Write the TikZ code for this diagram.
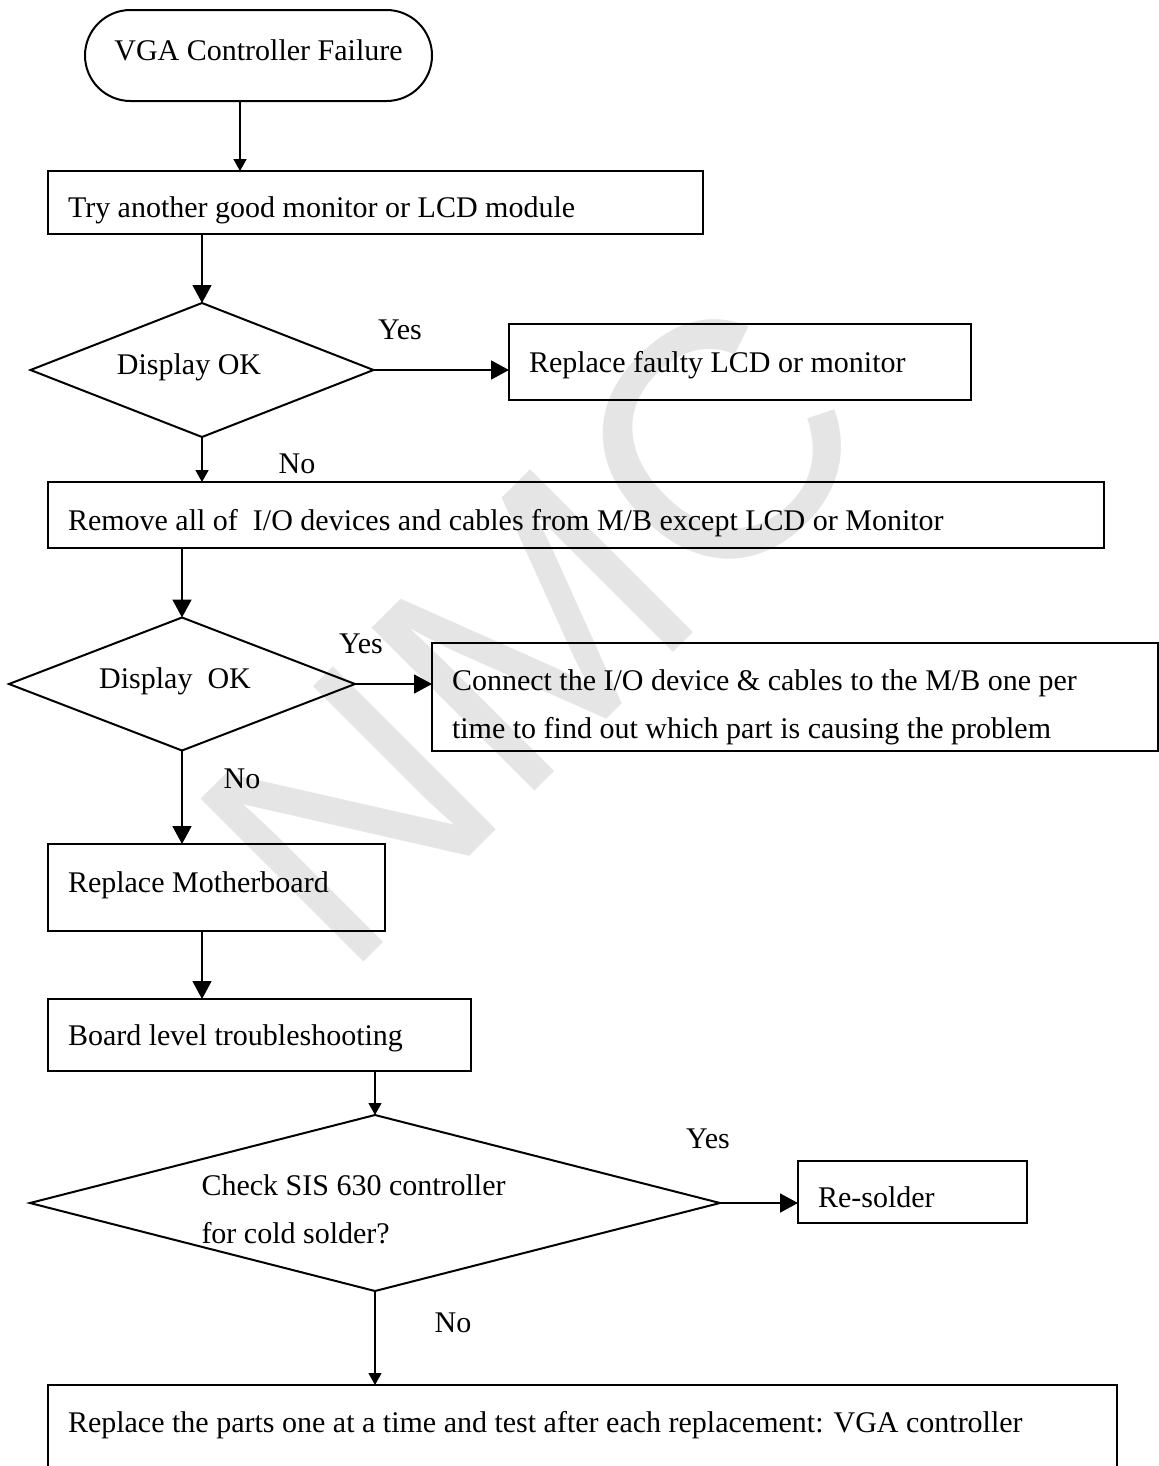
\documentclass[tikz,border=0pt]{standalone}
\usepackage{fontspec}
\setmainfont{Liberation Serif}
\newfontfamily\wmfont{Liberation Sans}
\usetikzlibrary{shapes.geometric,arrows.meta}
\definecolor{wmgray}{gray}{0.9}
\begin{document}
\begin{tikzpicture}[x=0.4pt,y=-0.4pt,
  every node/.style={font=\fontsize{12}{19.2}\selectfont},
  box/.style={draw, line width=0.8pt, rectangle, anchor=north west, inner xsep=8pt, inner ysep=0pt, outer sep=0pt},
  term/.style={draw, line width=0.8pt, rounded corners=18.2pt, anchor=north west, inner xsep=0pt, inner ysep=0pt, outer sep=0pt},
  dia/.style={draw, line width=0.8pt, diamond, inner sep=0pt, outer sep=0pt},
  lbl/.style={anchor=base, inner sep=0pt},
  big/.style={line width=0.7pt, -{Triangle[length=7.2pt,width=7.6pt]}},
  small/.style={line width=0.7pt, -{Triangle[length=4.8pt,width=5.2pt]}},
  thin/.style={line width=0.45pt, -{Triangle[length=4.8pt,width=5.2pt]}},
]
\useasboundingbox (0,0) rectangle (1159,1466);
\clip (0,0) rectangle (1159,1466);

% watermark
\node[rotate=45, text=wmgray, font=\wmfont\fontsize{134}{134}\selectfont, inner sep=0pt] (wm) at (533,630) {NMC};

% terminal
\node[term, minimum width=138.8pt, text height=20pt, text depth=16.4pt] (start) at (85,10) {VGA Controller Failure};

% boxes
\node[box, text height=18.4pt, text depth=6.8pt] (b1) at (48,171) {\makebox[246pt][l]{Try another good monitor or LCD module}};
\node[box, text height=19.2pt, text depth=11.2pt] (r1) at (509,324) {\makebox[168.8pt][l]{Replace faulty LCD or monitor}};
\node[box, text height=19.2pt, text depth=7.2pt] (b2) at (48,482) {\makebox[406.4pt][l]{Remove all of \ I/O devices and cables from M/B except LCD or Monitor}};
\node[box, text height=18.8pt, text depth=24.4pt] (r2) at (432,643) {\parbox[t]{274.4pt}{Connect the I/O device \& cables to the M/B one per\\time to find out which part is causing the problem}};
\node[box, text height=19.2pt, text depth=15.6pt] (b4) at (48,844) {\makebox[118.8pt][l]{Replace Motherboard}};
\node[box, text height=18.4pt, text depth=10.4pt] (b5) at (48,999) {\makebox[153.2pt][l]{Board level troubleshooting}};
\node[box, text height=18.4pt, text depth=6.4pt] (r3) at (798,1161) {\makebox[75.6pt][l]{Re-solder}};
\node[box, text height=18.8pt, text depth=50pt] (b7) at (48,1385) {\makebox[411.6pt][l]{Replace the parts one at a time and test after each replacement: VGA controller}};

% decisions
\node[dia, minimum width=137.2pt, minimum height=53.6pt] (d1) at (202,370) {};
\node[dia, minimum width=138.4pt, minimum height=53.2pt] (d2) at (182,684) {};
\node[dia, minimum width=276pt, minimum height=70.4pt] (d3) at (375,1203) {};
\node[lbl] (d1t) at (189,374) {Display OK};
\node[lbl] (d2t) at (175,688) {Display\ \ OK};
\node[anchor=base west, inner sep=0pt] (d3t) at (201,1195) {\parbox[t]{130pt}{Check SIS 630 controller\\for cold solder?}};

% branch labels
\node[lbl] (y1) at (400,339) {Yes};
\node[lbl] (n1) at (297,473) {No};
\node[lbl] (y2) at (361,653) {Yes};
\node[lbl] (n2) at (242,788) {No};
\node[lbl] (y3) at (708,1148) {Yes};
\node[lbl] (n3) at (453,1332) {No};

% connectors
\draw[small] ([xshift=-7.4pt]start.south) -- ([xshift=-7.4pt]start.south |- b1.north);
\draw[big] (d1.north |- b1.south) -- (d1.north);
\draw[big] (d1.east) -- (d1.east -| r1.west);
\draw[small] (d1.south) -- (d1.south |- b2.north);
\draw[big] (d2.north |- b2.south) -- (d2.north);
\draw[big] (d2.east) -- (d2.east -| r2.west);
\draw[big] (d2.south) -- (d2.south |- b4.north);
\draw[big] ([xshift=-5.8pt]b4.south) -- ([xshift=-5.8pt]b4.south |- b5.north);
\draw[thin] (d3.north |- b5.south) -- (d3.north);
\draw[big] (d3.east) -- (d3.east -| r3.west);
\draw[thin] (d3.south) -- (d3.south |- b7.north);
\end{tikzpicture}
\end{document}
